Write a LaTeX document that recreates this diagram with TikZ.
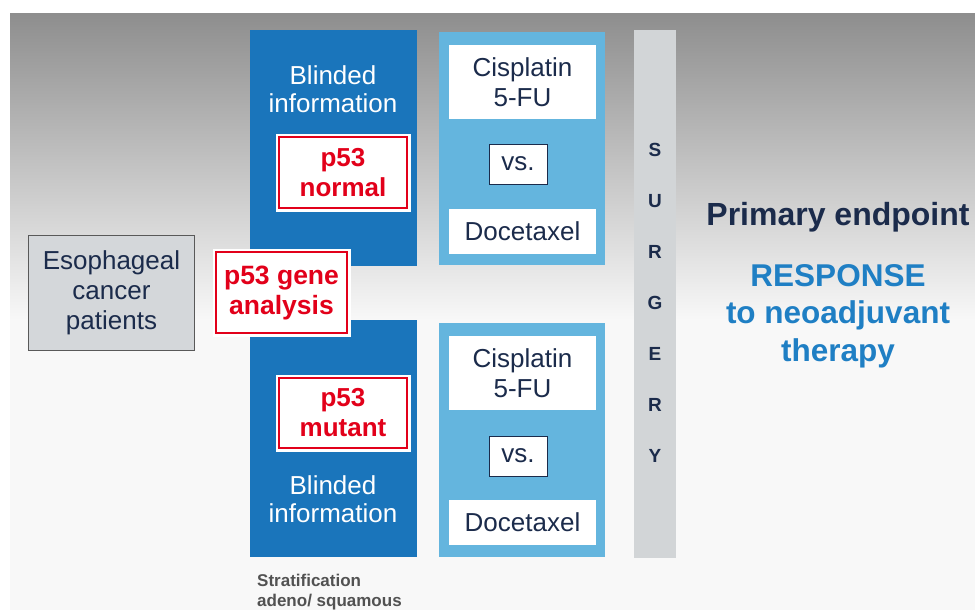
\documentclass[tikz,border=0pt]{standalone}
\usepackage{fontspec}
\setmainfont{Liberation Sans}
\definecolor{navy}{HTML}{1B2B4B}
\definecolor{darkblue}{HTML}{1A75BB}
\definecolor{lightblue}{HTML}{64B5DE}
\definecolor{barGray}{HTML}{D2D5D7}
\definecolor{boxGray}{HTML}{D4D7DA}
\definecolor{pred}{HTML}{E2001A}
\definecolor{respblue}{HTML}{1F7FC4}
\definecolor{bgtop}{HTML}{8E8E8E}
\definecolor{bgbot}{HTML}{F8F8F8}
\begin{document}
\begin{tikzpicture}[x=1pt,y=-1pt,
  whitebox/.style={fill=white, inner sep=0pt, align=center, text=navy,
     font=\fontsize{26}{30}\selectfont},
  redbox/.style={fill=white, draw=pred, line width=1.5pt, inner sep=0pt, align=center,
     text=pred, font=\fontsize{26}{30}\selectfont\bfseries,
     preaction={draw=white, line width=7pt}},
  blindtxt/.style={text=white, align=center, font=\fontsize{26}{28}\selectfont},
  surg/.style={text=navy, font=\fontsize{19}{19}\selectfont\bfseries}]
\useasboundingbox (0,0) rectangle (975,610);
% background
\fill[white] (0,0) rectangle (975,610);
\shade[top color=bgtop, bottom color=bgbot] (10,14) rectangle (975,320);
\fill[bgbot] (10,320) rectangle (975,610);
% dark blue panels
\fill[darkblue] (250,30) rectangle (417,266);
\fill[darkblue] (250,320) rectangle (417,557);
% light blue panels
\fill[lightblue] (439,32) rectangle (605,265);
\fill[lightblue] (439,323) rectangle (605,557);
% surgery bar
\fill[barGray] (634,30) rectangle (676,558);
% Blinded information texts
\node[blindtxt] (blindA) at (333,89) {Blinded\\information};
\node[blindtxt] (blindB) at (333,499) {Blinded\\information};
% white boxes top
\node[whitebox, minimum width=147pt, minimum height=74pt] (cisA) at (522.5,82) {Cisplatin\\5-FU};
\node[whitebox, draw=navy, line width=0.8pt, minimum width=58pt, minimum height=40pt] (vsA) at (518,164) {vs.};
\node[whitebox, minimum width=147pt, minimum height=45pt] (docA) at (522.5,231) {Docetaxel};
% white boxes bottom
\node[whitebox, minimum width=147pt, minimum height=74pt] (cisB) at (522.5,373) {Cisplatin\\5-FU};
\node[whitebox, draw=navy, line width=0.8pt, minimum width=58pt, minimum height=40pt] (vsB) at (518,456) {vs.};
\node[whitebox, minimum width=147pt, minimum height=45pt] (docB) at (522.5,522.5) {Docetaxel};
% red boxes
\node[redbox, minimum width=128pt, minimum height=71pt] (normal) at (343,172.5) {p53\\normal};
\node[redbox, minimum width=128pt, minimum height=70pt] (mutant) at (343,413) {p53\\mutant};
\node[redbox, minimum width=131pt, minimum height=81pt, font=\fontsize{26.5}{30}\selectfont\bfseries] (gene) at (281.5,292.5) {p53 gene\\analysis};
% esophageal
\node[fill=boxGray, draw=black!65, line width=1.3pt, minimum width=166pt, minimum height=115pt,
  inner sep=0pt, align=center, text=navy, font=\fontsize{26}{30}\selectfont] (eso) at (111.5,293) {Esophageal\\cancer\\patients};
% surgery letters
\node[surg] (s1) at (655,150) {S};
\node[surg] (s2) at (655,201) {U};
\node[surg] (s3) at (655,252) {R};
\node[surg] (s4) at (655,303) {G};
\node[surg] (s5) at (655,354) {E};
\node[surg] (s6) at (655,405) {R};
\node[surg] (s7) at (655,456) {Y};
% endpoint text
\node[text=navy, font=\fontsize{32}{36}\selectfont\bfseries] (pe) at (838,217) {Primary endpoint};
\node[text=respblue, align=center, font=\fontsize{31.5}{37.5}\selectfont\bfseries] (resp) at (838,316) {RESPONSE\\to neoadjuvant\\therapy};
% stratification
\node[anchor=west, text=black!68, align=left, inner sep=0pt, font=\fontsize{17}{20}\selectfont\bfseries] (strat) at (257,592) {Stratification\\adeno/ squamous};
\end{tikzpicture}
\end{document}
